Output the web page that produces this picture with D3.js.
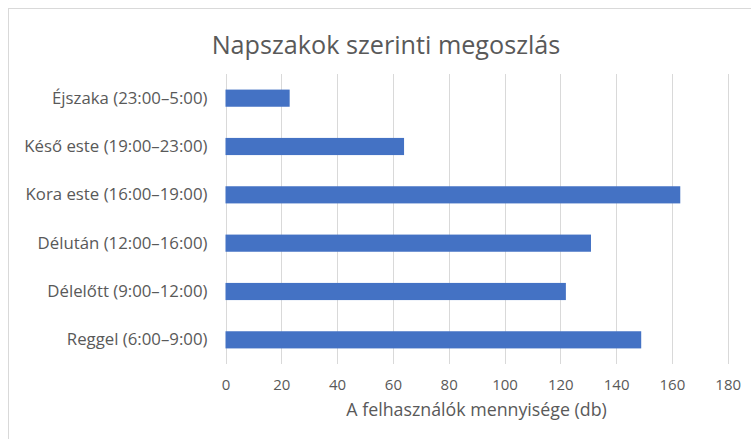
<!DOCTYPE html>
<html>
<head>
<meta charset="utf-8">
<script src="https://cdn.jsdelivr.net/npm/d3@7"></script>
<style>
  body { margin: 0; background: #fff; }
  text { font-family: "Open Sans", sans-serif; fill: #595959; }
</style>
</head>
<body>
<script>
var width = 751,
    height = 439;

// data, top to bottom as in the chart
var categories = [
    "Éjszaka (23:00–5:00)",
    "Késő este (19:00–23:00)",
    "Kora este (16:00–19:00)",
    "Délután (12:00–16:00)",
    "Délelőtt (9:00–12:00)",
    "Reggel (6:00–9:00)"
]
var values = [23, 64, 163, 131, 122, 149]
var ticks = [0, 20, 40, 60, 80, 100, 120, 140, 160, 180]

var margin = {top: 74, right: 23, bottom: 75, left: 225.5}

var svg = d3.select("body").append("svg")
    .attr("width", width)
    .attr("height", height)

// chart border
svg.append("rect")
    .attr("x", 8.5)
    .attr("y", 8.5)
    .attr("width", 760)
    .attr("height", 460)
    .attr("fill", "none")
    .attr("stroke", "#d9d9d9")

var x = d3.scaleLinear()
    .domain([0, 180])
    .range([margin.left, 727.7])

var y = d3.scaleBand()
    .domain(categories)
    .range([margin.top, height - margin.bottom])
    .paddingInner(0.645)
    .paddingOuter(0.3225)

/* gridlines */
svg.append("g")
    .selectAll("line")
    .data(ticks)
    .enter()
    .append("line")
    .attr("x1", function (d) { return Math.round(x(d)) + 0.5 })
    .attr("x2", function (d) { return Math.round(x(d)) + 0.5 })
    .attr("y1", margin.top)
    .attr("y2", height - margin.bottom)
    .attr("stroke", "#d9d9d9")
    .attr("stroke-width", 1)

/* bars */
svg.append("g")
    .selectAll("rect")
    .data(values)
    .enter()
    .append("rect")
    .attr("x", x(0))
    .attr("y", function (d, i) { return y(categories[i]) })
    .attr("width", function (d) { return x(d) - x(0) })
    .attr("height", y.bandwidth())
    .attr("fill", "#4472c4")

/* category labels */
var yAxis = svg.append("g")
    .attr("transform", "translate(" + (margin.left - 18) + ",0)")
    .call(d3.axisLeft(y).tickSize(0).tickPadding(0))
yAxis.select(".domain").remove()
yAxis.selectAll("text")
    .style("font-size", "16.8px")
    .attr("fill", "#595959")

/* value ticks */
var xAxis = svg.append("g")
    .attr("transform", "translate(0," + (height - margin.bottom + 15.5) + ")")
    .call(d3.axisBottom(x).tickValues(ticks).tickSize(0).tickPadding(0))
xAxis.select(".domain").remove()
xAxis.selectAll("text")
    .style("font-size", "15px")
    .attr("fill", "#595959")

/* titles */
svg.append("text")
    .attr("x", (x(0) + x(180)) / 2)
    .attr("y", 416)
    .attr("text-anchor", "middle")
    .style("font-size", "17.8px")
    .text("A felhasználók mennyisége (db)")

svg.append("text")
    .attr("x", 386)
    .attr("y", 54)
    .attr("text-anchor", "middle")
    .style("font-size", "25.2px")
    .text("Napszakok szerinti megoszlás")
</script>
</body>
</html>
